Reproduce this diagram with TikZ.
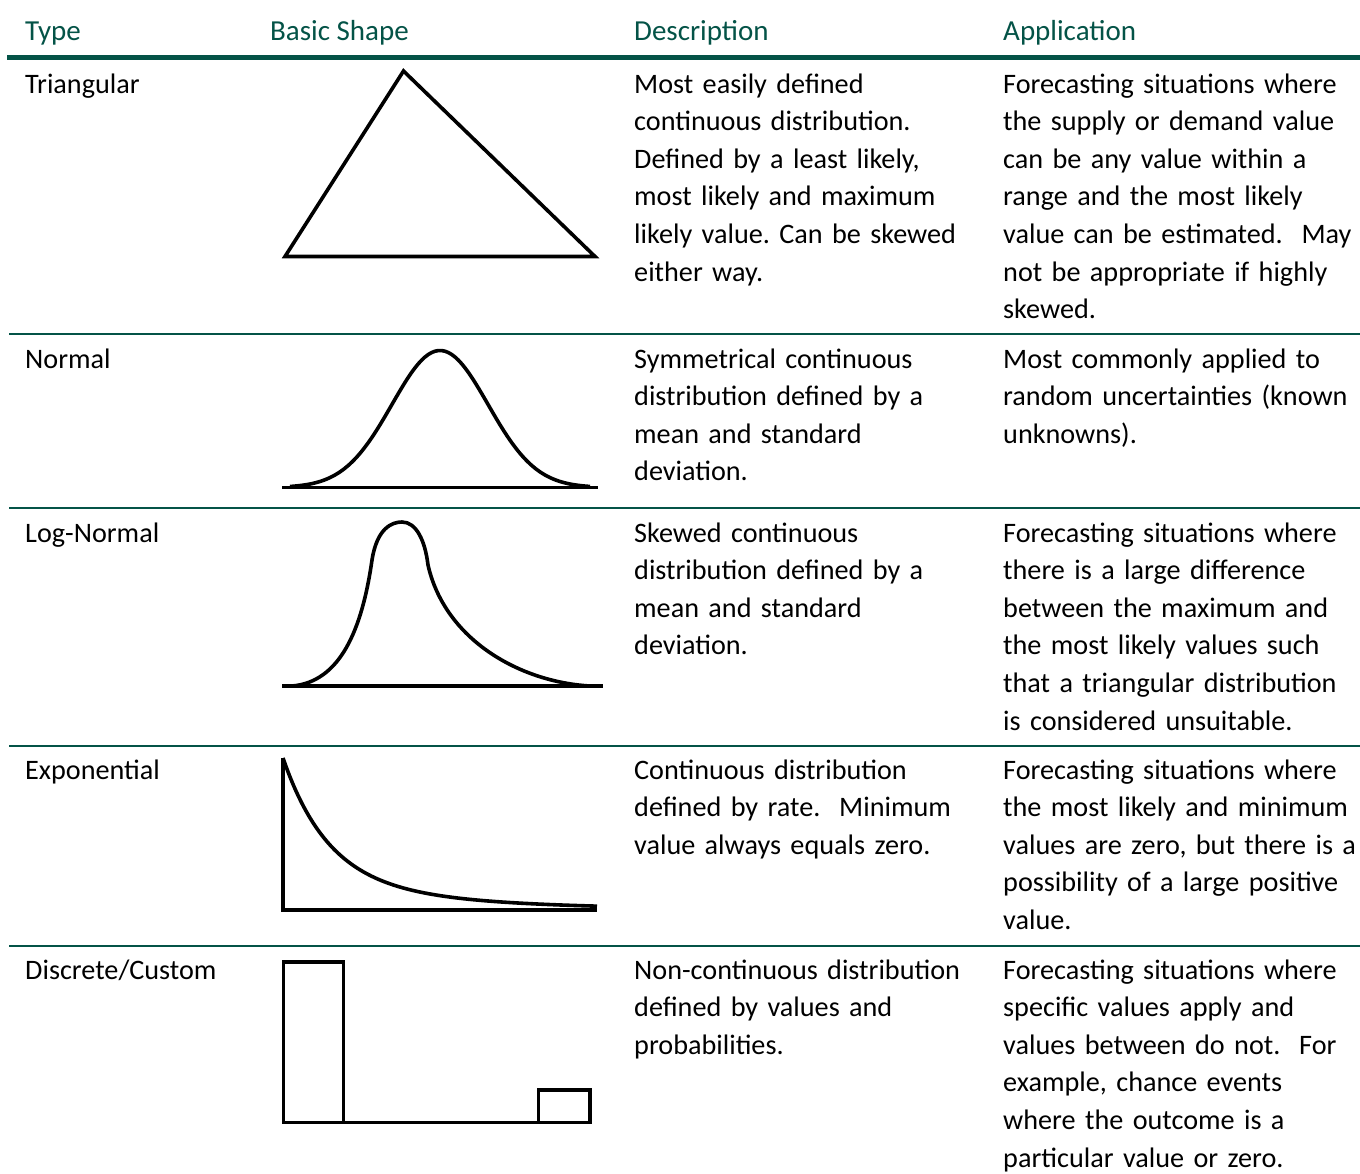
\documentclass[tikz,border=0pt]{standalone}
\usepackage{fontspec}
\setmainfont{Carlito}
\definecolor{hdgreen}{RGB}{4,83,71}
\begin{document}
\frenchspacing
\hyphenpenalty=10000
\exhyphenpenalty=10000
\begin{tikzpicture}[x=1pt,y=-1pt,
  hdr/.style={anchor=base west,inner sep=0pt,text=hdgreen,font=\fontsize{29}{33}\selectfont},
  cell/.style={anchor=base west,inner sep=0pt,text=black,align=left,text width=#1,
    font=\fontsize{28.2}{37.6}\selectfont},
  cell/.default=340pt,
  shp/.style={draw=black,line width=3.6pt,line join=miter},
  rule/.style={draw=hdgreen,line width=2pt},
]
\useasboundingbox[fill=white] (0,0) rectangle (1360,1173);
% header
\node[hdr] (hType) at (25,40) {Type};
\node[hdr] (hShape) at (270,40) {Basic Shape};
\node[hdr] (hDesc) at (634,40) {Description};
\node[hdr] (hApp) at (1003,40) {Application};
\draw[hdgreen,line width=5pt] (7,57.5) -- (1360,57.5);
% separators
\draw[rule] (9,334) -- (1360,334);
\draw[rule] (9,507.5) -- (1360,507.5);
\draw[rule] (9,746) -- (1360,746);
\draw[rule] (9,946) -- (1360,946);
% row 1
\node[cell=220pt] (t1) at (25,93) {Triangular};
\node[cell] (d1) at (634,93) {Most easily defined\\continuous distribution.\\Defined by a least likely,\\most likely and maximum\\likely value. Can be skewed\\either way.};
\node[cell=355pt] (a1) at (1003,93) {Forecasting situations where\\the supply or demand value\\can be any value within a\\range and the most likely\\value can be estimated.~ May\\not be appropriate if highly\\skewed.};
\draw[shp] (285,256.5) -- (403.5,71) -- (595,256.5) -- cycle;
% row 2
\node[cell=220pt] (t2) at (25,368) {Normal};
\node[cell] (d2) at (634,368) {Symmetrical continuous\\distribution defined by a\\mean and standard\\deviation.};
\node[cell=355pt] (a2) at (1003,368) {Most commonly applied to\\random uncertainties (known\\unknowns).};
\draw[shp] (282,487.5) -- (598,487.5);
\draw[shp,line join=round] plot[domain=290:590,samples=90,smooth] (\x,{487.5-137*exp(-0.5*((\x-440)/48)^2)});
% row 3
\node[cell=220pt] (t3) at (25,542) {Log-Normal};
\node[cell] (d3) at (634,542) {Skewed continuous\\distribution defined by a\\mean and standard\\deviation.};
\node[cell=355pt] (a3) at (1003,542) {Forecasting situations where\\there is a large difference\\between the maximum and\\the most likely values such\\that a triangular distribution\\is considered unsuitable.};
\draw[shp] (282,686) -- (603,686);
\draw[shp,line join=round] (292,686) .. controls (340,682) and (362,630) .. (372,560)
  .. controls (377,528) and (392,522) .. (402,522)
  .. controls (416,522) and (425,540) .. (428,565)
  .. controls (445,640) and (520,682) .. (590,686);
% row 4
\node[cell=220pt] (t4) at (25,779) {Exponential};
\node[cell] (d4) at (634,779) {Continuous distribution\\defined by rate.~ Minimum\\value always equals zero.};
\node[cell=355pt] (a4) at (1003,779) {Forecasting situations where\\the most likely and minimum\\values are zero, but there is a\\possibility of a large positive\\value.};
\draw[shp] (283,758) -- (283,910) -- (597,910);
\draw[shp,line join=round] plot[domain=283:597,samples=100,smooth] (\x,{910-152*(0.8*exp(-(\x-283)/45)+0.2*exp(-(\x-283)/150))});
% row 5
\node[cell=220pt] (t5) at (25,979) {Discrete/Custom};
\node[cell] (d5) at (634,979) {Non-continuous distribution\\defined by values and\\probabilities.};
\node[cell=355pt] (a5) at (1003,979) {Forecasting situations where\\specific values apply and\\values between do not.~ For\\example, chance events\\where the outcome is a\\particular value or zero.};
\draw[shp] (283.5,1122.5) rectangle (343.5,962);
\draw[shp] (343.5,1122.5) -- (538.5,1122.5);
\draw[shp] (538.5,1122.5) rectangle (590,1090);
\end{tikzpicture}
\end{document}
